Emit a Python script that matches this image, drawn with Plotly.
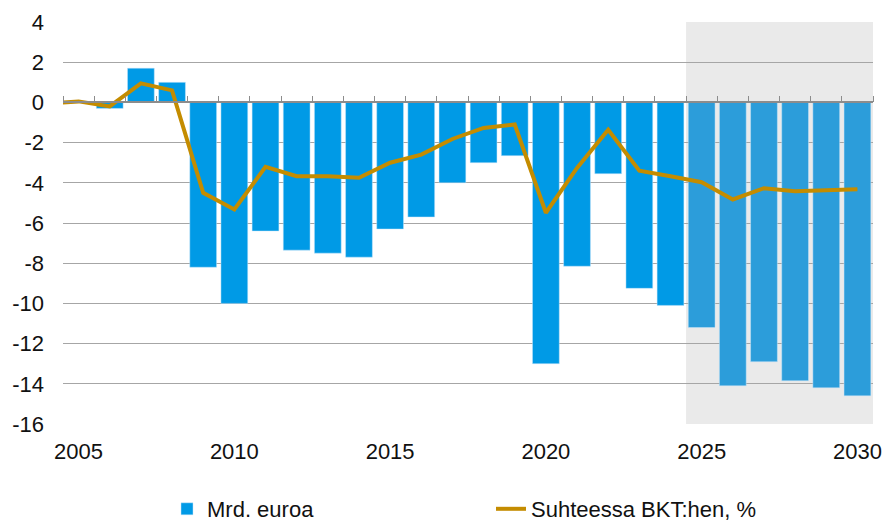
import plotly.graph_objects as go

years = list(range(2005, 2031))
bars_mrd = [0.0, -0.3, 1.7, 1.0, -8.2, -10.0, -6.4, -7.35, -7.5, -7.7,
            -6.3, -5.7, -4.0, -3.0, -2.65, -13.0, -8.15, -3.55, -9.25, -10.1,
            -11.2, -14.1, -12.9, -13.85, -14.2, -14.6]
line_years = list(range(2004, 2031))
line_pct = [-0.05, 0.05, -0.2, 0.95, 0.6, -4.5, -5.33, -3.2, -3.67, -3.67, -3.75,
            -3.0, -2.6, -1.82, -1.27, -1.1, -5.49, -3.26, -1.36, -3.4, -3.67,
            -3.97, -4.83, -4.27, -4.42, -4.37, -4.32]
forecast_start = 2025
tick_labels = ["2005", "2010", "2015", "2020", "2025", "2030"]
tick_years = [2005, 2010, 2015, 2020, 2025, 2030]
y_tick_vals = [4, 2, 0, -2, -4, -6, -8, -10, -12, -14, -16]
y_tick_labels = ["4", "2", "0", "-2", "-4", "-6", "-8", "-10", "-12", "-14", "-16"]

bar_colors = ["#009AE6" if y < forecast_start else "#2C9DDA" for y in years]

FONT = "Liberation Sans, Arial, sans-serif"

fig = go.Figure()
fig.add_trace(go.Bar(
    x=years, y=bars_mrd, name="Mrd. euroa", width=0.86,
    marker=dict(color=bar_colors, line=dict(color="rgba(200,230,250,0.8)", width=0.6)),
))
fig.add_trace(go.Scatter(
    x=line_years, y=line_pct, name="Suhteessa BKT:hen, %", mode="lines",
    line=dict(color="#C48C00", width=4), xaxis="x2",
))

xr = [2004.5, 2030.5]
fig.add_shape(type="rect", xref="x", yref="y", x0=forecast_start - 0.5, x1=xr[1],
              y0=-16, y1=4, fillcolor="#EAEAEA", line=dict(width=0), layer="below")

fig.update_layout(
    width=885, height=521,
    margin=dict(l=63, r=12, t=22, b=97, autoexpand=False),
    paper_bgcolor="white", plot_bgcolor="white",
    font=dict(family=FONT, size=22, color="#111111"),
    bargap=0.14,
    xaxis=dict(range=xr, tickvals=tick_years, ticktext=tick_labels, showgrid=False,
               zeroline=False, showline=False, ticks="", ticklabelstandoff=12,
               automargin=False),
    xaxis2=dict(range=xr, overlaying="x", anchor="free", position=0.8, side="top",
                tickvals=[y + 0.5 for y in line_years], showticklabels=False,
                ticks="outside", ticklen=6, tickcolor="#8C8C8C", tickwidth=1,
                showline=True, linecolor="#8C8C8C", linewidth=1.5, showgrid=False,
                zeroline=False),
    yaxis=dict(range=[-16, 4], tickvals=y_tick_vals, ticktext=y_tick_labels,
               showgrid=True, gridcolor="#A6A6A6",
               gridwidth=1, zeroline=False, showline=False, ticks="",
               ticklabelstandoff=18, automargin=False),
    legend=dict(orientation="h", x=(167 - 63) / 810, xanchor="left",
                y=(424 - 509) / 402, yanchor="middle",
                entrywidthmode="pixels", entrywidth=279, font=dict(size=22),
                bgcolor="rgba(0,0,0,0)"),
    showlegend=True,
)

fig.write_html("out.html", config={"displayModeBar": False},
               post_script="document.body.style.margin='0';")
